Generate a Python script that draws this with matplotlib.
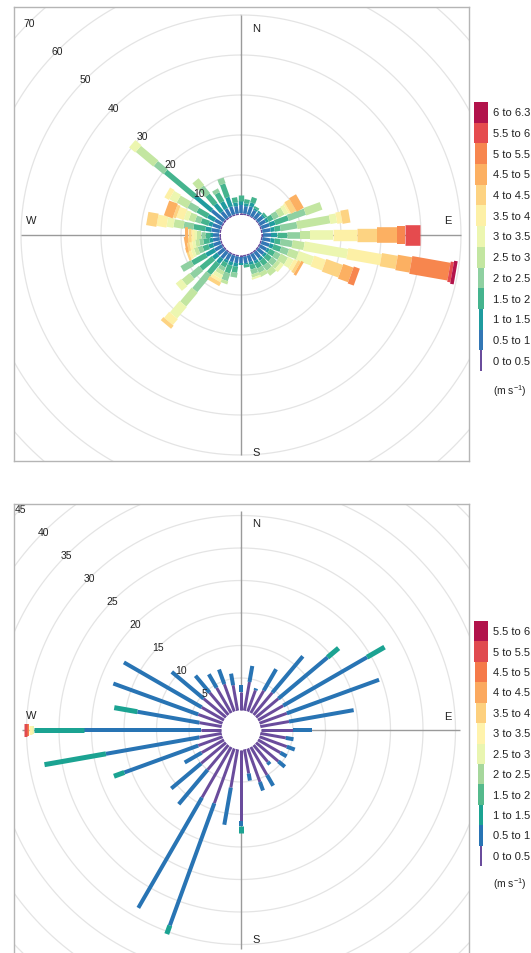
import numpy as np
import matplotlib
matplotlib.use("Agg")
import matplotlib.pyplot as plt

plt.rcParams['font.family'] = ['Liberation Sans', 'DejaVu Sans']
plt.rcParams['mathtext.default'] = 'regular'

W, H, DPI = 531, 954, 100

# ---------------- data ----------------
directions = np.arange(0, 360, 10)  # degrees, clockwise from north

# top rose: values per speed bin (one value per 10-degree direction)
top_edges = [0, 0.5, 1, 1.5, 2, 2.5, 3, 3.5, 4, 4.5, 5, 5.5, 6, 6.3]
top_b0 = [.4, .4, .4, .3, .3, .3, .3, .4, .4, .4, .4, .4, .4, .4, .4, .4, .4, .4,
          .4, .4, .4, .4, .4, .4, .4, .4, .4, .4, .4, .4, .4, .5, .4, .4, .4, .4]
top_b1 = [2.1, 1.9, 2.1, 1.7, 1.7, 1.7, 1.7, 2.1, 2.1, 2.1, 2.1, 2.1, 1.9, 1.9, 1.9, 1.9, 1.7, 1.7,
          1.6, 1.7, 1.7, 1.7, 2.1, 2.1, 2.1, 1.9, 1.7, 1.6, 2.1, 2.1, 2.1, 4.0, 2.1, 2.1, 2.1, 1.9]
top_b2 = [1.0, .7, 1.0, .5, .5, .5, .7, 1.5, 1.0, 1.5, 1.0, 1.0, .7, .7, .7, .7, .7, .4,
          .5, .9, .9, .7, 1.5, 1.5, 2.5, 1.2, .9, .8, 1.5, 1.0, 2.0, 5.5, 2.5, 2.0, 2.5, .9]
top_b3 = [1.4, 1.0, 1.4, .5, 0, .5, 1.3, 3.5, 1.5, 2.5, 1.5, 2.0, 1.5, 1.5, 1.5, 1.3, 1.2, .7,
          0, 1.5, 2.0, 1.2, 3.5, 4.0, 4.0, 1.5, 1.5, 1.2, 3.0, 2.0, 3.0, 9.6, 3.0, 2.5, 3.5, 1.3]
top_b4 = [0, 0, 0, 0, 0, 0, 1.5, 4.5, 4.2, 3.25, 3.0, 2.0, 1.5, 1.5, 1.5, 1.2, 1.2, 0,
          0, 1.2, 2.0, 1.0, 5.5, 3.0, 3.0, 1.2, 1.0, 1.0, 2.5, 1.5, 2.5, 3.2, 2.5, 1.0, 1.5, 0]
top_b5 = [0, 0, 0, 0, 0, 0, 1.5, 4.3, 8.3, 2.5, 3.0, 2.5, 2.0, 1.0, 1.5, 1.1, .8, 0,
          0, 0, .8, 1.0, 4.5, 2.5, 0, 1.0, 1.0, 1.0, 2.5, 1.6, 3.0, 5.7, 2.2, 0, 0, 0]
top_b6 = [0, 0, 0, 0, 0, 0, 1.0, 0, 1.7, 5.85, 11.0, 4.0, 1.5, 1.0, 0, 0, .5, 0,
          0, 0, 0, 1.0, 3.75, 1.8, 0, .8, .8, .8, 1.7, 1.2, 2.0, 2.0, 0, 0, 0, 0]
top_b7 = [0, 0, 0, 0, 0, 0, .5, 0, 1.3, 5.8, 8.5, 3.1, 1.0, 0, 0, 0, 0, 0,
          0, 0, 0, .8, 1.95, 0, 0, .7, .7, .7, 2.5, 1.9, 1.3, 0, 0, 0, 0, 0]
top_b8 = [0, 0, 0, 0, 0, 0, 1.5, 0, 2.0, 5.0, 4.0, 4.4, .8, 0, 0, 0, 0, 0,
          0, 0, 0, 1.0, 1.0, 0, 0, .6, .6, .7, 2.6, .8, 0, 0, 0, 0, 0, 0]
top_b9 = [0, 0, 0, 0, 0, 0, 2.0, 0, 0, 5.0, 3.6, 2.7, .7, 0, 0, 0, 0, 0,
          0, 0, 0, 0, 0, 0, 0, 0, .6, .8, 0, 2.3, 0, 0, 0, 0, 0, 0]
top_b10 = [0, 0, 0, 0, 0, 0, 0, 0, 0, 2.1, 9.7, 1.6, 0, 0, 0, 0, 0, 0,
           0, 0, 0, 0, 0, 0, 0, 0, 0, 0, 0, 0, 0, 0, 0, 0, 0, 0]
top_b11 = [0, 0, 0, 0, 0, 0, 0, 0, 0, 3.75, .8, 0, 0, 0, 0, 0, 0, 0,
           0, 0, 0, 0, 0, 0, 0, 0, 0, 0, 0, 0, 0, 0, 0, 0, 0, 0]
top_b12 = [0, 0, 0, 0, 0, 0, 0, 0, 0, 0, .9, 0, 0, 0, 0, 0, 0, 0,
           0, 0, 0, 0, 0, 0, 0, 0, 0, 0, 0, 0, 0, 0, 0, 0, 0, 0]
top_bins = [top_b0, top_b1, top_b2, top_b3, top_b4, top_b5, top_b6,
            top_b7, top_b8, top_b9, top_b10, top_b11, top_b12]
top_rings = [10, 20, 30, 40, 50, 60, 70]

# bottom rose
bot_edges = [0, 0.5, 1, 1.5, 2, 2.5, 3, 3.5, 4, 4.5, 5, 5.5, 6]
bot_b0 = [2.8, 4.5, 3.5, 4.0, 4.5, 4.5, 4.5, 4.5, 4.5, 5.0, 4.0, 4.5, 4.0, 4.5, 3.4, 5.0, 5.5, 3.8,
          11.0, 6.0, 9.0, 9.0, 5.0, 5.0, 4.0, 4.0, 3.5, 3.2, 3.5, 4.0, 4.0, 4.5, 4.5, 4.5, 4.5, 4.0]
bot_b1 = [1.1, 2.5, .3, 3.8, 7.3, 9.9, 14.9, 15.1, 10.1, 2.9, 1.2, 1.3, 1.1, 1.3, .5, 1.9, 1.4, 1.1,
          .7, 5.8, 20.0, 19.6, 6.9, 6.0, 3.0, 12.1, 14.6, 18.0, 9.7, 13.9, 13.8, 6.4, 3.4, 2.4, 2.4, 1.8]
bot_b2 = [0, 0, 0, 0, 0, 2.2, 3.1, 0, 0, 0, 0, 0, 0, 0, 0, 0, 0, 0,
          1.2, 0, 1.4, 0, 0, 0, 0, 1.7, 9.6, 7.6, 3.6, 0, 0, 0, 0, 0, 0, 0]
bot_b5 = [0] * 27 + [.4] + [0] * 8
bot_b6 = [0] * 27 + [.4] + [0] * 8
bot_b9 = [0] * 27 + [.4] + [0] * 8
bot_b10 = [0] * 27 + [.4] + [0] * 8
bot_zero = [0] * 36
bot_bins = [bot_b0, bot_b1, bot_b2, bot_zero, bot_zero, bot_b5, bot_b6,
            bot_zero, bot_zero, bot_b9, bot_b10, bot_zero]
bot_rings = [5, 10, 15, 20, 25, 30, 35, 40, 45]

top_colors = ['#6a4c9c', '#3277b5', '#1f9b9f', '#45b48e', '#8fd0a1', '#c3e6a1', '#ecf6b0',
              '#fdf0a6', '#fdd382', '#fcb062', '#f7864e', '#e54b4e', '#b2134b']
bot_colors = ['#6a4c9c', '#2874b4', '#1ba392', '#55ba8c', '#a6d79c', '#e9f5b0', '#fff3ac',
              '#fdd07e', '#fba95f', '#f57a49', '#e04a4f', '#b2134b']


def labels_from(edges):
    return ["%g to %g" % (a, b) for a, b in zip(edges[:-1], edges[1:])]


fig = plt.figure(figsize=(W / DPI, H / DPI), dpi=DPI)
fig.patch.set_facecolor('white')
TXT = '#222222'


def rose(center, frame, ppu, hole_px, line_len, bins, colors, widths_px, rings, compass):
    cx, cy = center
    R = 340
    ax = fig.add_axes([(cx - R) / W, 1 - (cy + R) / H, 2 * R / W, 2 * R / H], projection='polar')
    ax.set_theta_zero_location('N')
    ax.set_theta_direction(-1)
    hole = hole_px / ppu
    ax.set_rorigin(-hole)
    ax.set_ylim(0, (R - hole_px) / ppu)
    ax.axis('off')

    fx0, fy0, fx1, fy1 = frame
    fax = fig.add_axes([fx0 / W, 1 - fy1 / H, (fx1 - fx0) / W, (fy1 - fy0) / H])
    fax.set_xlim(fx0 - cx, fx1 - cx)
    fax.set_ylim(cy - fy1, cy - fy0)
    fax.set_facecolor('none')
    fax.set_xticks([]); fax.set_yticks([])
    for s in fax.spines.values():
        s.set_color('#b5b5b5'); s.set_linewidth(1.0)

    th = np.linspace(0, 2 * np.pi, 721)
    for rv in rings:
        ln, = ax.plot(th, np.full_like(th, rv), color='#e4e4e4', lw=0.9, zorder=1)
        ln.set_clip_path(fax.patch)
        ax.text(np.deg2rad(315), rv, str(rv), ha='center', va='center',
                fontsize=7.5, color=TXT, zorder=5)

    ax.vlines(np.deg2rad([0, 90, 180, 270]), 0, line_len, colors='#9a9a9a',
              linewidth=1.0, zorder=2)

    theta = np.deg2rad(directions)
    cum = np.zeros(len(directions))
    for i, vals in enumerate(bins):
        v = np.asarray(vals, float)
        m = v > 0
        if m.any():
            lc = ax.vlines(theta[m], cum[m], (cum + v)[m], colors=colors[i],
                           linewidth=widths_px[i] * 72 / DPI, zorder=3)
            lc.set_capstyle('butt')
        cum = cum + v

    for lab, (dx, dy) in compass.items():
        fax.text(dx, dy, lab, ha='center', va='center', fontsize=8, color=TXT)
    return ax, fax


def legend(x0, x1, ytop, ybot, edges, colors, unit_y):
    n = len(edges) - 1
    lax = fig.add_axes([x0 / W, 1 - ybot / H, (x1 - x0) / W, (ybot - ytop) / H])
    half = (x1 - x0) / 2
    lax.set_xlim(-half, half)
    lax.set_ylim(0, n)
    lax.axis('off')
    wmin, wmax = 2.0, 14.5
    labs = labels_from(edges)
    for i in range(n):
        w = wmin + (wmax - wmin) * i / (n - 1)
        lax.bar(0, 1, bottom=i, width=w, color=colors[i], linewidth=0)
        lax.text(12.3, i + 0.5, labs[i], ha='left', va='center', fontsize=8,
                 color=TXT, clip_on=False)
    fig.text(493 / W, 1 - unit_y / H, '(m s$^{-1}$)', ha='left', va='center',
             fontsize=7.5, color=TXT)


top_widths = [3 + 0.5 * i + 0.1 * i * i for i in range(13)]
bot_widths = [3 + 1.0 * i for i in range(12)]

rose((241, 236), (14, 8, 469, 462), 4.0, 20, 50, top_bins, top_colors, top_widths,
     top_rings, {'N': (15, 207), 'E': (207, 15), 'S': (15, -217), 'W': (-210, 15)})
rose((241, 731), (14, 505, 469, 957), 6.5, 19.5, 30.7, bot_bins, bot_colors, bot_widths,
     bot_rings, {'N': (15, 207), 'E': (207, 14), 'S': (15, -209), 'W': (-210, 15)})

legend(470, 492, 103, 372, top_edges, top_colors, 391)
legend(470, 492, 622, 867, bot_edges, bot_colors, 884)

fig.savefig('out.png', dpi=DPI, facecolor='white')
